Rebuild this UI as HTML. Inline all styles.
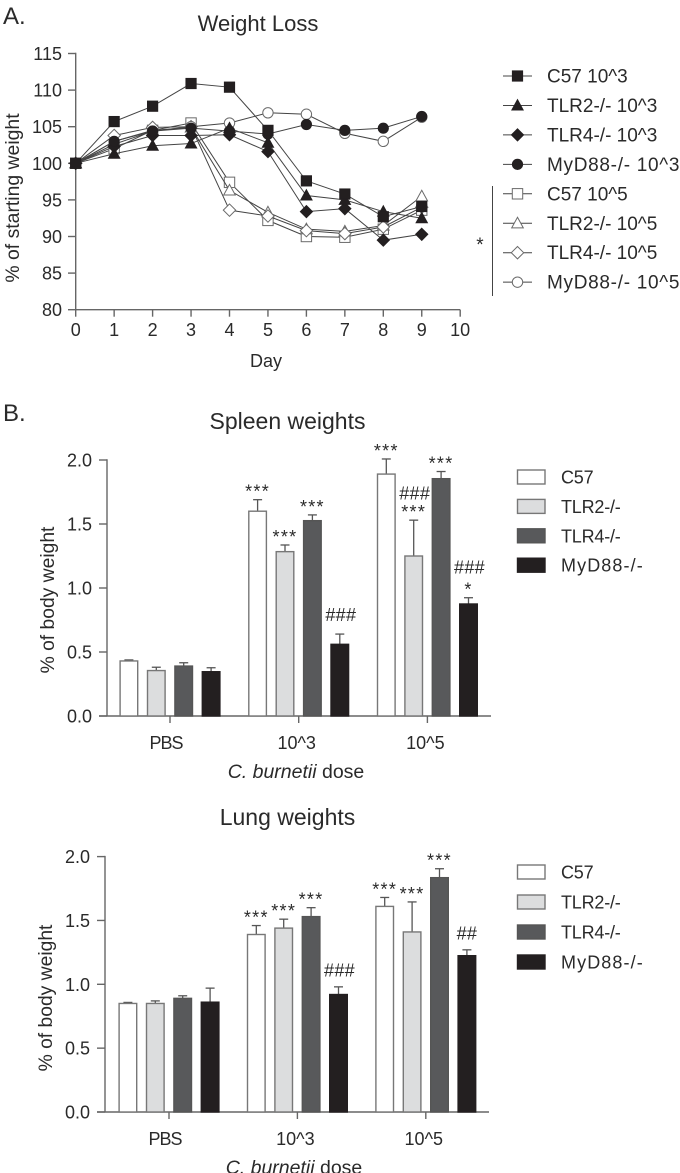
<!DOCTYPE html>
<html lang="en">
<head>
<meta charset="utf-8">
<title>Weight loss and organ weights</title>
<style>
html,body{margin:0;padding:0;background:#fff;}
svg{display:block;}
text{font-family:"Liberation Sans",sans-serif;fill:#2a2a2a;}
</style>
</head>
<body>
<svg id="fig" xmlns="http://www.w3.org/2000/svg" width="680" height="1173" viewBox="0 0 680 1173"></svg>
<script>
// ---- Panel A data ----
const days = [0,1,2,3,4,5,6,7,8,9];
const xTicksA = [0,1,2,3,4,5,6,7,8,9,10];
const yTicksA = [80,85,90,95,100,105,110,115];
const c57Low = [100,105.7,107.8,110.9,110.4,104.5,97.6,95.8,92.7,94.1];
const tlr2Low = [100,101.3,102.4,102.7,104.8,102.8,95.6,95,93.4,92.5];
const tlr4Low = [100,102.3,103.8,103.8,103.9,101.6,93.4,93.8,89.5,90.3];
const myd88Low = [100,103,104.4,104.8,104.4,104,105.3,104.5,104.8,106.4];
const c57High = [100,102,104.5,105.5,97.4,92.2,90,89.9,91,93.6];
const tlr2High = [100,103,104.5,104.9,96.3,93.3,91,90.7,91.5,95.5];
const tlr4High = [100,103.8,104.9,105,93.6,92.8,90.8,90.4,91.3,94];
const myd88High = [100,102.6,104.4,105,105.5,106.9,106.7,104.1,103,106.3];
const lineLabels = ["C57 10^3","TLR2-/- 10^3","TLR4-/- 10^3","MyD88-/- 10^3","C57 10^5","TLR2-/- 10^5","TLR4-/- 10^5","MyD88-/- 10^5"];

// ---- Panel B data ----
const doses = ["PBS","10^3","10^5"];
const strains = ["C57","TLR2-/-","TLR4-/-","MyD88-/-"];
const yTicksB = [0,0.5,1,1.5,2];
const spleenC57 = [0.43,1.60,1.89];
const spleenTlr2 = [0.355,1.284,1.25];
const spleenTlr4 = [0.39,1.526,1.854];
const spleenMyd88 = [0.346,0.56,0.875];
const spleenC57Err = [0.008,0.09,0.118];
const spleenTlr2Err = [0.026,0.052,0.28];
const spleenTlr4Err = [0.026,0.045,0.056];
const spleenMyd88Err = [0.031,0.08,0.049];
const spleenC57Marks = [[],["***"],["***"]];
const spleenTlr2Marks = [[],["***"],["***","###"]];
const spleenTlr4Marks = [[],["***"],["***"]];
const spleenMyd88Marks = [[],["###"],["*","###"]];
const lungC57 = [0.85,1.39,1.61];
const lungTlr2 = [0.85,1.44,1.41];
const lungTlr4 = [0.89,1.53,1.835];
const lungMyd88 = [0.86,0.92,1.224];
const lungC57Err = [0.008,0.07,0.07];
const lungTlr2Err = [0.02,0.07,0.235];
const lungTlr4Err = [0.02,0.07,0.07];
const lungMyd88Err = [0.11,0.06,0.046];
const lungC57Marks = [[],["***"],["***"]];
const lungTlr2Marks = [[],["***"],["***"]];
const lungTlr4Marks = [[],["***"],["***"]];
const lungMyd88Marks = [[],["###"],["##"]];

const NS = "http://www.w3.org/2000/svg";
const fig = document.getElementById("fig");
function mk(tag, attrs, parent, txt){
  const e = document.createElementNS(NS, tag);
  for (const k in attrs) e.setAttribute(k, attrs[k]);
  if (txt !== undefined) e.textContent = txt;
  (parent || fig).appendChild(e);
  return e;
}
function group(name){
  const g = mk("g", {});
  
  
  return g;
}
function label(name, str, x, y, size, anchor, parent, extra){
  const t = mk("text", Object.assign({x:x, y:y, "font-size":size, "text-anchor":anchor || "start"}, extra || {}), parent, str);
  
  
  return t;
}
const AXC = "#666";
function seg(x1,y1,x2,y2,parent,color,w){
  return mk("line",{x1:x1,y1:y1,x2:x2,y2:y2,stroke:color||AXC,"stroke-width":w||1.4},parent);
}
function marker(kind, filled, x, y, parent){
  const fill = filled ? "#231f20" : "#fff";
  const stroke = filled ? "#231f20" : "#6a6a6a";
  const sw = filled ? 0.8 : 1;
  const r = 5.2;
  if (kind === 0) mk("rect",{x:x-r,y:y-r,width:2*r,height:2*r,fill:fill,stroke:stroke,"stroke-width":sw},parent);
  if (kind === 1) mk("polygon",{points:(x)+","+(y-r-0.8)+" "+(x+r+0.6)+","+(y+r-0.6)+" "+(x-r-0.6)+","+(y+r-0.6),fill:fill,stroke:stroke,"stroke-width":sw},parent);
  if (kind === 2) mk("polygon",{points:x+","+(y-r-1)+" "+(x+r+1)+","+y+" "+x+","+(y+r+1)+" "+(x-r-1)+","+y,fill:fill,stroke:stroke,"stroke-width":sw},parent);
  if (kind === 3) mk("circle",{cx:x,cy:y,r:r,fill:fill,stroke:stroke,"stroke-width":sw},parent);
}

// ---- Panel labels and titles ----
label("panel-a-label","A.",3,24,24,"start");
label("panel-b-label","B.",3,421,24,"start");
label("weight-loss-title","Weight Loss",258,31,22,"middle");
label("spleen-title","Spleen weights",287.5,429,23,"middle");
label("lung-title","Lung weights",287.5,825,23,"middle");

// ---- Panel A axes ----
const xA = d => 75.7 + 38.45 * d;
const yA = v => 163.3 - (v - 100) * 7.32;
const axesA = group("line-chart-axes");
seg(xA(0),yA(115)-0.7,xA(0),yA(80)+0.7,axesA);
seg(xA(0),yA(80),xA(10),yA(80),axesA);
yTicksA.forEach(v=>{
  seg(68,yA(v),xA(0),yA(v),axesA);
  label("y-tick-"+v,String(v),62,yA(v)+6.5,18,"end",axesA);
});
xTicksA.forEach(d=>{
  seg(xA(d),yA(80),xA(d),yA(80)+7,axesA);
  label("x-tick-"+d,String(d),xA(d),336,18,"middle",axesA);
});
label("x-axis-title","Day",266,367,18,"middle",axesA);
label("y-axis-title","% of starting weight",0,0,19.4,"middle",axesA,{transform:"translate(19,198) rotate(-90)"});

// ---- Panel A series ----
const lineSeries = [
  {v:c57High,k:0,f:false},{v:tlr2High,k:1,f:false},{v:tlr4High,k:2,f:false},{v:myd88High,k:3,f:false},
  {v:tlr2Low,k:1,f:true},{v:tlr4Low,k:2,f:true},{v:myd88Low,k:3,f:true},{v:c57Low,k:0,f:true}
];
lineSeries.forEach(s=>{
  const g = group("series-"+(s.f?"filled-":"open-")+s.k);
  mk("polyline",{points:s.v.map((v,i)=>xA(days[i])+","+yA(v)).join(" "),fill:"none",stroke:"#444","stroke-width":1},g);
  s.v.forEach((v,i)=>marker(s.k,s.f,xA(days[i]),yA(v),g));
});

// ---- Panel A legend ----
const legA = group("line-legend");
lineLabels.forEach((lab,i)=>{
  const y = 76 + i * 29.45;
  seg(503,y,532,y,legA,"#444",1);
  marker(i%4,i<4,517.5,y,legA);
  label("legend-entry-"+i,lab,547,y+6.5,19,"start",legA,{"letter-spacing":i%4===3?"0.7":"0"});
});
seg(492.5,186,492.5,296,legA,"#444",1);
label("legend-significance-star","*",480,251,19,"middle",legA);

// ---- Panel B ----
const barFills = ["#fff","#dcddde","#58595b","#231f20"];
const barStrokes = ["#777","#777","#555","#231f20"];
function barChart(name, cfg){
  const yB = v => cfg.y0 - v * cfg.scale;
  const xB = (g,b) => cfg.cx0 + cfg.gw * g + (b - 1.5) * 27.4;
  const ax = group(name+"-axes");
  seg(cfg.ax,yB(2)-0.7,cfg.ax,yB(0),ax);
  seg(cfg.ax-8,yB(0),cfg.ax+384,yB(0),ax);
  yTicksB.forEach(v=>{
    seg(cfg.ax-8,yB(v),cfg.ax,yB(v),ax);
    label(name+"-y-tick-"+v,v.toFixed(1),cfg.ax-15,yB(v)+6.5,18,"end",ax);
  });
  doses.forEach((d,g)=>{
    seg(cfg.cx0+cfg.gw*g,yB(0),cfg.cx0+cfg.gw*g,yB(0)+7,ax);
    label(name+"-x-tick-"+g,d,cfg.cx0+cfg.gw*g-(g===0?4:2),yB(0)+33,g===0?18:18,"middle",ax,{"letter-spacing":g===0?"-1":"0"});
  });
  const xt = label(name+"-x-title","",cfg.xTitleX,yB(0)+62,19.5,"middle",ax);
  mk("tspan",{"font-style":"italic"},xt,"C. burnetii");
  mk("tspan",{},xt," dose");
  label(name+"-y-title","% of body weight",0,0,19.3,"middle",ax,{transform:"translate("+(cfg.ax-53)+","+cfg.yTitleY+") rotate(-90)"});

  cfg.vals.forEach((arr,b)=>{
    const g = group(name+"-series-"+strains[b].replace(/[^A-Za-z0-9]/g,"").toLowerCase());
    arr.forEach((v,i)=>{
      const cx = xB(i,b);
      const cap = yB(v + cfg.errs[b][i]);
      seg(cx,yB(v),cx,cap,g,"#555",1.3);
      seg(cx-4.5,cap,cx+4.5,cap,g,"#555",1.3);
      const r = mk("rect",{x:cx-8.8,y:yB(v),width:17.6,height:yB(0)-yB(v),fill:barFills[b],stroke:barStrokes[b],"stroke-width":1.4},g);
      
      
      let off = 0;
      cfg.marks[b][i].forEach((m,j)=>{
        const isHash = m[0] === "#";
        if (j === 0) { off = isHash ? cfg.hashOff : 10; }
        else { off += m === "###" && cfg.marks[b][i][0] === "*" ? 20.5 : 17; }
        const cy = cap - off;
        if (isHash) {
          label(name+"-significance-hash",m,cx+(m==="###"?1:0),cy+6.5,18,"middle",g,{"letter-spacing":"0.3"});
        } else {
          label(name+"-significance-star",m,cx,cy+8,18,"middle",g,{"letter-spacing":"1.3"});
        }
      });
    });
  });

  const leg = group(name+"-legend");
  strains.forEach((s,i)=>{
    const y = cfg.legY + i * cfg.legStep;
    mk("rect",{x:517.5,y:y-7,width:27.5,height:14,fill:barFills[i],stroke:barStrokes[i],"stroke-width":1.4},leg);
    label(name+"-legend-entry-"+i,s,561,y+6.5,18,"start",leg,{"letter-spacing":i===3?"1.1":"-0.2"});
  });
}
barChart("spleen",{y0:716,scale:128,ax:107,cx0:170,gw:128.7,legY:477,legStep:29.4,hashOff:19.5,xTitleX:296,yTitleY:600,
  vals:[spleenC57,spleenTlr2,spleenTlr4,spleenMyd88],
  errs:[spleenC57Err,spleenTlr2Err,spleenTlr4Err,spleenMyd88Err],
  marks:[spleenC57Marks,spleenTlr2Marks,spleenTlr4Marks,spleenMyd88Marks]});
barChart("lung",{y0:1112,scale:127.7,ax:105,cx0:169,gw:128.4,legY:872,legStep:30,hashOff:17,xTitleX:294,yTitleY:998,
  vals:[lungC57,lungTlr2,lungTlr4,lungMyd88],
  errs:[lungC57Err,lungTlr2Err,lungTlr4Err,lungMyd88Err],
  marks:[lungC57Marks,lungTlr2Marks,lungTlr4Marks,lungMyd88Marks]});
</script>
</body>
</html>
